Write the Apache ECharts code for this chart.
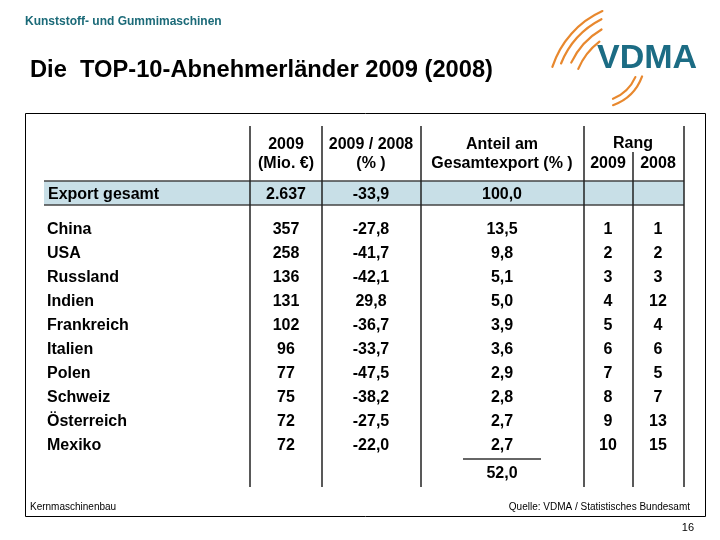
<!DOCTYPE html>
<html>
<head>
<meta charset="utf-8">
<script src="https://cdn.jsdelivr.net/npm/echarts@6/dist/echarts.min.js"></script>
<style>html,body{margin:0;padding:0;background:#fff}#c{width:720px;height:540px}</style>
</head>
<body>
<div id="c"></div>
<script>
// ---- data ----
const countries = ['China','USA','Russland','Indien','Frankreich','Italien','Polen','Schweiz','Österreich','Mexiko'];
const exports2009 = [357, 258, 136, 131, 102, 96, 77, 75, 72, 72];          // Mio. €
const change0908 = [-27.8, -41.7, -42.1, 29.8, -36.7, -33.7, -47.5, -38.2, -27.5, -22.0]; // %
const shareTotal = [13.5, 9.8, 5.1, 5.0, 3.9, 3.6, 2.9, 2.8, 2.7, 2.7];   // %
const rank2009 = [1, 2, 3, 4, 5, 6, 7, 8, 9, 10];
const rank2008 = [1, 2, 3, 12, 4, 6, 5, 7, 13, 15];
const totalLabel = ['Export gesamt'];
const totalExport = [2637];
const totalChange = [-33.9];
const totalShare = [100.0];

// ---- layout (page pixel columns) ----
const colCenters = [286, 371, 502, 608, 658];
const FONT = '"Liberation Sans", Arial, sans-serif';

function de1(v){ return v.toFixed(1).replace('.', ','); }
function deInt(v){ return String(v).replace(/\B(?=(\d{3})+(?!\d))/g, '.'); }

const chart = echarts.init(document.getElementById('c'), null, {renderer:'canvas'});

function colSeries(gridIdx, values, colIdx, fmt){
  return {
    type: 'scatter', xAxisIndex: gridIdx, yAxisIndex: gridIdx,
    symbolSize: 0, silent: true, animation: false,
    itemStyle: { opacity: 1 },
    data: values.map((v, i) => [colCenters[colIdx], i, v]),
    label: { show: true, position: 'inside', color: '#000', opacity: 1,
      fontFamily: FONT, fontWeight: 'bold', fontSize: 16,
      formatter: p => fmt(p.data[2]) }
  };
}

const shareSum = shareTotal.reduce((a, b) => a + b, 0);

const hdr = (x, y, t) => ({ type:'text', x:x, y:y, z:10, style:{ text:t, x:0, y:0, align:'center', verticalAlign:'middle', font:'bold 16px ' + FONT, fill:'#000' }});
const vline = (x, y1, y2, w, c) => ({ type:'line', z:5, shape:{x1:x, y1:y1, x2:x, y2:y2}, style:{stroke:c||'#222', lineWidth:w||1.5}});
const hline = (x1, x2, y, w, c) => ({ type:'line', z:5, shape:{x1:x1, y1:y, x2:x2, y2:y}, style:{stroke:c||'#333', lineWidth:w||1.5}});
const arc = (cx, cy, r, a0, a1, w) => ({ type:'arc', z:5, shape:{cx:cx, cy:cy, r:r, startAngle:a0, endAngle:a1, clockwise:true}, style:{stroke:'#e8882e', fill:null, lineWidth:w||2, lineCap:'round'}});

const option = {
  backgroundColor: '#fff',
  animation: false,
  grid: [
    { left: 45, right: 36, top: 218, height: 240 },
    { left: 45, right: 36, top: 183, height: 24 }
  ],
  xAxis: [
    { gridIndex: 0, type: 'value', min: 45, max: 684, show: false },
    { gridIndex: 1, type: 'value', min: 45, max: 684, show: false }
  ],
  yAxis: [
    { gridIndex: 0, type: 'category', data: countries, inverse: true,
      axisLine:{show:false}, axisTick:{show:false}, splitLine:{show:false},
      axisLabel:{ inside: true, margin: 2, align: 'left', color:'#000', fontFamily: FONT, fontWeight:'bold', fontSize: 16 } },
    { gridIndex: 1, type: 'category', data: totalLabel, inverse: true,
      axisLine:{show:false}, axisTick:{show:false}, splitLine:{show:false},
      axisLabel:{ inside: true, margin: 3, align: 'left', color:'#000', fontFamily: FONT, fontWeight:'bold', fontSize: 16 } }
  ],
  series: [
    colSeries(0, exports2009, 0, v => String(v)),
    colSeries(0, change0908, 1, de1),
    colSeries(0, shareTotal, 2, de1),
    colSeries(0, rank2009, 3, v => String(v)),
    colSeries(0, rank2008, 4, v => String(v)),
    colSeries(1, totalExport, 0, deInt),
    colSeries(1, totalChange, 1, de1),
    colSeries(1, totalShare, 2, de1)
  ],
  graphic: [
    // frame
    { type:'rect', z:0, shape:{x:25.5, y:113.5, width:680, height:403}, style:{fill:null, stroke:'#000', lineWidth:1}},
    // total band
    { type:'rect', z:0, shape:{x:44, y:181, width:640, height:24}, style:{fill:'#c8dfe7'}},
    hline(44, 684, 181, 1.5, '#444'),
    hline(44, 684, 205, 1.5, '#444'),
    // column separators
    vline(250, 126, 487), vline(322, 126, 487), vline(421, 126, 487),
    vline(584, 126, 487), vline(633, 152, 487), vline(684, 126, 487),
    // headers
    hdr(286, 145, '2009'), hdr(286, 164, '(Mio. €)'),
    hdr(371, 145, '2009 / 2008'), hdr(371, 164, '(% )'),
    hdr(502, 145, 'Anteil am'), hdr(502, 164, 'Gesamtexport (% )'),
    hdr(633, 144, 'Rang'), hdr(608, 164, '2009'), hdr(658, 164, '2008'),
    // sum
    hline(463, 541, 459, 1.5, '#333'),
    hdr(502, 474, de1(shareSum)),
    // titles
    { type:'text', z:10, x:25, y:22, style:{ text:'Kunststoff- und Gummimaschinen', align:'left', verticalAlign:'middle', font:'bold 12px ' + FONT, fill:'#1b6a78' }},
    { type:'text', z:10, x:30, y:70, style:{ text:'Die  TOP-10-Abnehmerländer 2009 (2008)', align:'left', verticalAlign:'middle', font:'bold 23.7px ' + FONT, fill:'#000' }},
    // footer
    { type:'text', z:10, x:30, y:507, style:{ text:'Kernmaschinenbau', align:'left', verticalAlign:'middle', font:'10px ' + FONT, fill:'#000' }},
    { type:'text', z:10, x:690, y:507, style:{ text:'Quelle: VDMA / Statistisches Bundesamt', align:'right', verticalAlign:'middle', font:'10px ' + FONT, fill:'#000' }},
    { type:'text', z:10, x:694, y:528, style:{ text:'16', align:'right', verticalAlign:'middle', font:'11px ' + FONT, fill:'#000' }},
    // logo
    { type:'text', z:10, x:597, y:59, style:{ text:'VDMA', align:'left', verticalAlign:'middle', font:'bold 34px ' + FONT, fill:'#1c6c84' }},
    arc(640, 95, 92, Math.PI + 0.31, Math.PI + 1.15, 2.2),
    arc(640, 95, 85, Math.PI + 0.38, Math.PI + 1.10, 2.2),
    arc(640, 95, 76, Math.PI + 0.44, Math.PI + 1.04, 2.2),
    arc(640, 95, 67, Math.PI + 0.40, Math.PI + 0.92, 2.2),
    arc(597, 60, 48, 0.35, 1.23, 2.2),
    arc(597, 60, 42, 0.42, 1.18, 2.2)
  ]
};
chart.setOption(option);
</script>
</body>
</html>
